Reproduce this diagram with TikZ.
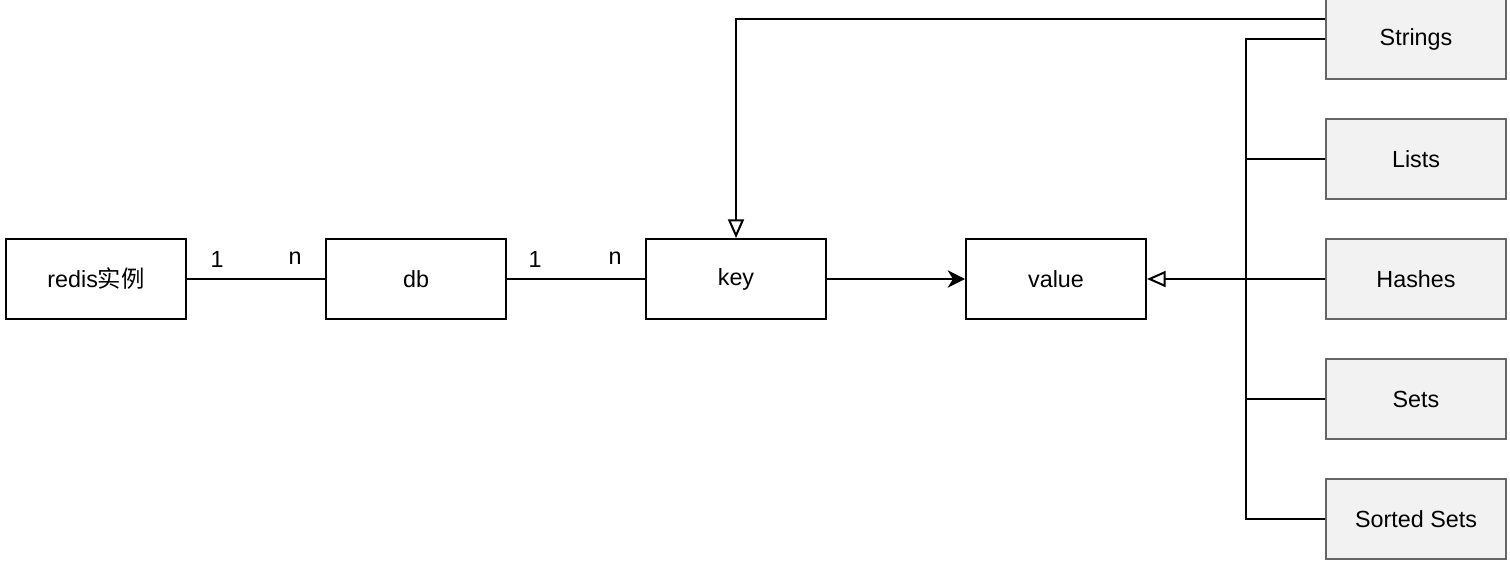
\documentclass[tikz,border=0pt]{standalone}
\usepackage{fontspec}
\setmainfont{Liberation Sans}
\newfontfamily\cjk{Noto Sans CJK SC}
\usetikzlibrary{arrows.meta}
\definecolor{typefill}{HTML}{F2F2F2}
\definecolor{typeline}{HTML}{666666}

\begin{document}
\begin{tikzpicture}[x=0.75pt, y=-0.75pt, line width=1.5pt, every node/.style = {shape=rectangle, draw, align=center,
font=\fontsize{17.5}{21}\selectfont, minimum width=135pt, minimum height=60pt, inner sep=0pt}]
	\tikzstyle{ent} = [fill=white]
	\tikzstyle{kind} = [fill=typefill, draw=typeline]
	\tikzstyle{card} = [draw=none, minimum width=0pt, minimum height=0pt]
	\tikzstyle{isa} = [-{Triangle[open, length=14pt, width=12pt]}]
	\tikzstyle{has} = [-{Stealth[length=13pt, width=13pt, inset=4pt]}]
	\useasboundingbox (0,0) rectangle (1510,564);
	\node[ent] (redis) at (96,279) {redis{\cjk 实例}};
	\node[ent] (db) at (416,279) {db};
	\node[ent] (key) at (736,279) {key};
	\node[ent] (value) at (1056,279) {value};
	\node[kind] (strings) at (1416,39) {Strings};
	\node[kind] (lists) at (1416,159) {Lists};
	\node[kind] (hashes) at (1416,279) {Hashes};
	\node[kind] (sets) at (1416,399) {Sets};
	\node[kind] (sorted) at (1416,519) {Sorted Sets};
	\coordinate (bus) at (1246,279);
	\draw (redis) -- (db);
	\draw (db) -- (key);
	\draw[has] (key) -- (value);
	\draw[isa] ([yshift=15pt]strings.west) -| (key.north);
	\foreach \t in {strings, lists, sets, sorted}
		\draw (\t.west) -| (bus);
	\draw[isa] (hashes.west) -- (value.east);
	\node[card] (r1) at (217,259) {1};
	\node[card] (dn) at (295,258) {n};
	\node[card] (d1) at (535,259) {1};
	\node[card] (kn) at (615,258) {n};
\end{tikzpicture}
\end{document}
